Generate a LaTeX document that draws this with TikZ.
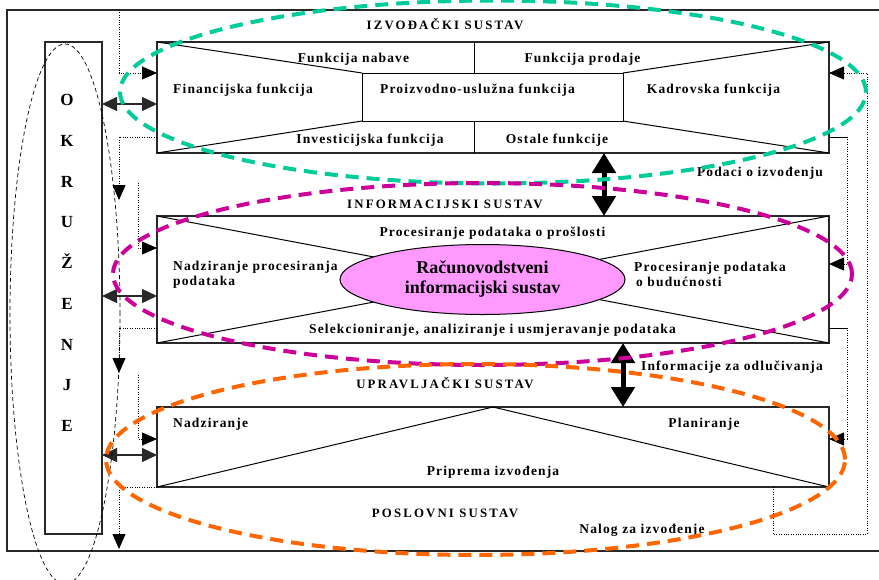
\documentclass[tikz,border=0pt]{standalone}
\usepackage{fontspec}
\setmainfont{Liberation Serif}
\newfontfamily\lsfont[LetterSpace=8.5]{Liberation Serif}
\newfontfamily\ttlfont[LetterSpace=17]{Liberation Serif}
\usetikzlibrary{arrows.meta,shapes.geometric}
\definecolor{cTeal}{RGB}{0,204,153}
\definecolor{cMag}{RGB}{204,0,153}
\definecolor{cOrg}{RGB}{255,102,0}
\definecolor{cPink}{RGB}{255,153,255}
\definecolor{cLine}{RGB}{40,40,40}
\begin{document}
\begin{tikzpicture}[x=1pt,y=-1pt,
  box/.style={draw=cLine, line width=1.3pt, inner sep=0pt, outer sep=0pt},
  inner/.style={draw=black, line width=1pt},
  lbl/.style={font=\lsfont\bfseries\fontsize{13.5}{15}\selectfont, inner sep=0pt},
  ttl/.style={font=\ttlfont\bfseries\fontsize{12.8}{14}\selectfont, inner sep=0pt},
  dotline/.style={draw=black, line width=0.8pt, dash pattern=on 0.8pt off 1.6pt},
  sarr/.style={-{Triangle[length=15pt,width=13pt]}},
  darr/.style={draw=cLine, line width=1.4pt, {Triangle[length=15pt,width=14pt]}-{Triangle[length=15pt,width=14pt]}},
  bigarr/.style={draw=black, line width=5pt, {Triangle[length=20pt,width=23pt]}-{Triangle[length=20pt,width=23pt]}},
  cdash/.style={line width=4pt, dash pattern=on 13pt off 8pt},
  thindash/.style={draw=black, line width=0.7pt, dash pattern=on 4pt off 3pt}]
\useasboundingbox (0,0) rectangle (879,579);

% outer frame
\draw[cLine, line width=1.3pt] (882,10) -- (7,10) -- (7,551) -- (882,551);

% boxes
\node[box, minimum width=57pt, minimum height=492pt] (okr) at (73.5,288) {};
\node[box, minimum width=672pt, minimum height=111pt] (izv) at (493,97.5) {};
\node[box, minimum width=672pt, minimum height=127pt] (inf) at (493,279.5) {};
\node[box, minimum width=672pt, minimum height=80pt] (upr) at (493,447) {};

% inner structure of the execution system
\draw[inner] (izv.north west) -- (362,73);
\draw[inner] (izv.south west) -- (362,121);
\draw[inner] (362,73) rectangle (623,121);
\draw[inner] (izv.north -| 474,0) -- (474,73);
\draw[inner] (474,121) -- (izv.south -| 474,0);
\draw[inner] (623,73) -- (izv.north east);
\draw[inner] (623,121) -- (izv.south east);

% inner structure of the information system
\draw[inner] (inf.north west) -- (inf.south east);
\draw[inner] (inf.south west) -- (inf.north east);
\node[ellipse, draw=black, line width=1pt, fill=cPink, minimum width=285pt, minimum height=70pt,
      inner sep=0pt, align=center, font=\bfseries\fontsize{18}{20}\selectfont]
      (rac) at (482.5,279.5) {Računovodstveni\\informacijski sustav};

% inner structure of the management system
\draw[inner] (upr.south west) -- (upr.north) -- (upr.south east);

% environment text
\node[font=\bfseries\fontsize{17}{40.75}\selectfont, align=center, inner sep=0pt]
      (okrt) at (67,263) {O\\K\\R\\U\\Ž\\E\\N\\J\\E};

% titles
\node[ttl, anchor=base] (t1) at (445,29) {IZVOĐAČKI SUSTAV};
\node[ttl, anchor=base] (t2) at (445,208) {INFORMACIJSKI SUSTAV};
\node[ttl, anchor=base] (t3) at (445,388) {UPRAVLJAČKI SUSTAV};
\node[ttl, anchor=base] (t4) at (445,517) {POSLOVNI SUSTAV};

% labels top box
\node[lbl, anchor=base] (l1) at (353.5,62) {Funkcija nabave};
\node[lbl, anchor=base] (l2) at (582.5,62) {Funkcija prodaje};
\node[lbl, anchor=base] (l3) at (243,93) {Financijska funkcija};
\node[lbl, anchor=base] (l4) at (477.5,93) {Proizvodno-uslužna funkcija};
\node[lbl, anchor=base] (l5) at (713.5,93) {Kadrovska funkcija};
\node[lbl, anchor=base] (l6) at (370,143) {Investicijska funkcija};
\node[lbl, anchor=base] (l7) at (557,143) {Ostale funkcije};

% labels middle box
\node[lbl, anchor=base] (m1) at (492.5,236) {Procesiranje podataka o prošlosti};
\node[lbl, anchor=west, align=left] (m2) at (173,274.5) {Nadziranje procesiranja\\podataka};
\node[lbl, anchor=west, align=left] (m3) at (634,274.5) {Procesiranje podataka\\\hspace*{2pt}o budućnosti};
\node[lbl, anchor=base] (m4) at (492.5,333) {Selekcioniranje, analiziranje i usmjeravanje podataka};

% labels bottom box
\node[lbl, anchor=base west] (b1) at (173,427) {Nadziranje};
\node[lbl, anchor=base] (b2) at (704,427) {Planiranje};
\node[lbl, anchor=base] (b3) at (493,475) {Priprema izvođenja};

% flow labels
\node[lbl, anchor=base] (f1) at (760,176) {Podaci o izvođenju};
\node[lbl, anchor=base] (f2) at (732,370) {Informacije za odlučivanja};
\node[lbl, anchor=base] (f3) at (642,533) {Nalog za izvođenje};

% helper coordinates
\coordinate (ftop) at (119,10);
\coordinate (y104) at (0,104);
\coordinate (y296) at (0,296);
\coordinate (y455) at (0,455);
\coordinate (c1a) at (119,73);
\coordinate (c2a) at (119,137);
\coordinate (c2b) at (119,200);
\coordinate (c3a) at (138,183);
\coordinate (c3b) at (138,248);
\coordinate (c4a) at (119,328);
\coordinate (c4b) at (119,373);
\coordinate (c5a) at (138,375);
\coordinate (c5b) at (138,439);
\coordinate (c6a) at (119,487);
\coordinate (c6b) at (119,549);
\coordinate (r1a) at (773,534);
\coordinate (r1b) at (867,534);
\coordinate (r1c) at (867,73);
\coordinate (r2a) at (847,137);
\coordinate (r2b) at (847,264);
\coordinate (r3a) at (847,328);
\coordinate (r3b) at (847,439);
\coordinate (xa) at (604,0);
\coordinate (xb) at (623,0);

% left dotted connectors
\draw[dotline, sarr] (ftop) -- (c1a) -- (izv.west |- c1a);
\draw[dotline, sarr] (izv.west |- c2a) -- (c2a) -- (c2b);
\draw[dotline, sarr] (c3a) -- (c3b) -- (inf.west |- c3b);
\draw[dotline, sarr] (inf.west |- c4a) -- (c4a) -- (c4b);
\draw[dotline, sarr] (c5a) -- (c5b) -- (upr.west |- c5b);
\draw[dotline, sarr] (upr.south west) -- (c6a) -- (c6b);

% environment double arrows
\draw[darr] (okr.east |- y104) -- (izv.west |- y104);
\draw[darr] (okr.east |- y296) -- (inf.west |- y296);
\draw[darr] (okr.east |- y455) -- (upr.west |- y455);

% right connectors
\draw[dotline, sarr] (upr.south -| r1a) -- (r1a) -- (r1b) -- (r1c) -- (izv.east |- r1c);
\draw[inner] (izv.east |- r2a) -- (r2a);
\draw[dotline, sarr] (r2a) -- (r2b) -- (inf.east |- r2b);
\draw[inner] (inf.east |- r3a) -- (r3a);
\draw[dotline, sarr] (r3a) -- (r3b) -- (upr.east |- r3b);

% thick arrows between systems
\draw[bigarr] (izv.south -| xa) -- (inf.north -| xa);
\draw[bigarr] (inf.south -| xb) -- (upr.north -| xb);

% environment ellipse
\draw[thindash] (65,314) ellipse [x radius=55pt, y radius=270pt];

% coloured system ellipses
\draw[cTeal, cdash] (493,92) ellipse [x radius=373pt, y radius=91.5pt];
\draw[cMag, cdash] (482.5,274) ellipse [x radius=369.5pt, y radius=91pt];
\draw[cOrg, cdash] (475.5,459.5) ellipse [x radius=369.5pt, y radius=95.5pt];
\end{tikzpicture}
\end{document}
